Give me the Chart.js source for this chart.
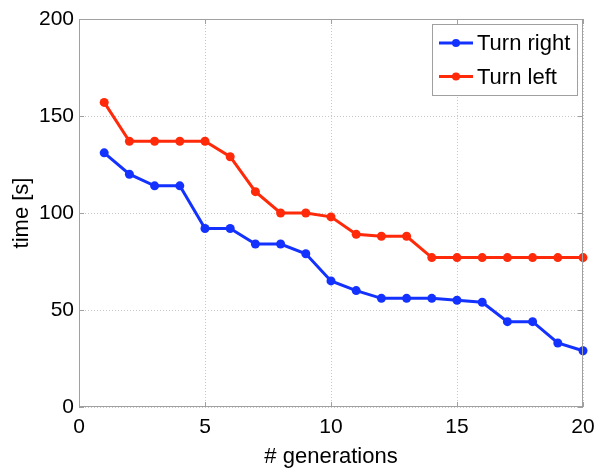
<!DOCTYPE html>
<html>
<head>
<meta charset="utf-8">
<script src="https://cdn.jsdelivr.net/npm/chart.js@4"></script>
<style>
  html, body { margin: 0; padding: 0; background: #fff; }
  #wrap { width: 594px; height: 468px; }
</style>
</head>
<body>
<div id="wrap"><canvas id="timeChart" width="594" height="468"></canvas></div>
<script>
const generations = [1, 2, 3, 4, 5, 6, 7, 8, 9, 10, 11, 12, 13, 14, 15, 16, 17, 18, 19, 20];
const turnRight = [131, 120, 114, 114, 92, 92, 84, 84, 79, 65, 60, 56, 56, 56, 55, 54, 44, 44, 33, 29];
const turnLeft = [157, 137, 137, 137, 137, 129, 111, 100, 100, 98, 89, 88, 88, 77, 77, 77, 77, 77, 77, 77];
const xTicks = [0, 5, 10, 15, 20];
const yTicks = [0, 50, 100, 150, 200];

const FONT = 'Liberation Sans, Arial, Helvetica, sans-serif';
const BLUE = '#1432ff';
const RED = '#ff2a0a';

const toPoints = (values) => generations.map((g, i) => ({ x: g, y: values[i] }));

// box around the plot + small inward ticks, like matlab
const boxPlugin = {
  id: 'box',
  afterDraw(chart) {
    const { ctx, chartArea: a, scales } = chart;
    ctx.save();
    ctx.strokeStyle = '#a0a0a0';
    ctx.lineWidth = 1;
    ctx.strokeRect(a.left + 0.5, a.top + 0.5, a.right - a.left - 1, a.bottom - a.top - 1);
    ctx.beginPath();
    xTicks.forEach(t => {
      const x = Math.round(scales.x.getPixelForValue(t)) + 0.5;
      ctx.moveTo(x, a.bottom); ctx.lineTo(x, a.bottom - 5);
      ctx.moveTo(x, a.top); ctx.lineTo(x, a.top + 5);
    });
    yTicks.forEach(t => {
      const y = Math.round(scales.y.getPixelForValue(t)) + 0.5;
      ctx.moveTo(a.left, y); ctx.lineTo(a.left + 5, y);
      ctx.moveTo(a.right, y); ctx.lineTo(a.right - 5, y);
    });
    ctx.stroke();
    ctx.restore();
  }
};

// legend drawn inside the plot, top right
const insideLegend = {
  id: 'insideLegend',
  afterDraw(chart) {
    const { ctx, chartArea: a } = chart;
    const sets = chart.data.datasets;
    const w = 145, rowH = 33.5, h = 71;
    const x0 = Math.round(a.right - w - 6), y0 = Math.round(a.top + 5);
    ctx.save();
    ctx.fillStyle = '#fff';
    ctx.fillRect(x0, y0, w, h);
    ctx.strokeStyle = '#a0a0a0';
    ctx.lineWidth = 1;
    ctx.strokeRect(x0 + 0.5, y0 + 0.5, w, h);
    ctx.font = '22px ' + FONT;
    ctx.textBaseline = 'middle';
    sets.forEach((ds, i) => {
      const cy = y0 + 19 + i * rowH;
      ctx.strokeStyle = ds.borderColor;
      ctx.lineWidth = 3;
      ctx.beginPath();
      ctx.moveTo(x0 + 7, cy); ctx.lineTo(x0 + 41, cy);
      ctx.stroke();
      ctx.fillStyle = ds.borderColor;
      ctx.beginPath();
      ctx.arc(x0 + 24, cy, 4, 0, Math.PI * 2);
      ctx.fill();
      ctx.fillStyle = '#000';
      ctx.fillText(ds.label, x0 + 45, cy + 1);
    });
    ctx.restore();
  }
};

new Chart(document.getElementById('timeChart'), {
  type: 'line',
  data: {
    datasets: [
      {
        label: 'Turn right',
        data: toPoints(turnRight),
        borderColor: BLUE,
        backgroundColor: BLUE,
        borderWidth: 3,
        pointRadius: 4.5,
        pointBorderWidth: 0,
        tension: 0
      },
      {
        label: 'Turn left',
        data: toPoints(turnLeft),
        borderColor: RED,
        backgroundColor: RED,
        borderWidth: 3,
        pointRadius: 4.5,
        pointBorderWidth: 0,
        tension: 0
      }
    ]
  },
  options: {
    responsive: false,
    animation: false,
    clip: false,
    layout: { padding: { top: 19, right: 11, left: 0, bottom: 0 } },
    plugins: {
      legend: { display: false },
      tooltip: { enabled: false }
    },
    scales: {
      x: {
        type: 'linear',
        min: 0,
        max: 20,
        afterBuildTicks: s => { s.ticks = xTicks.map(v => ({ value: v })); },
        afterFit: s => { s.height = 61; s.paddingLeft = 0; s.paddingRight = 0; },
        grid: { color: '#c8c8c8', drawTicks: false },
        border: { display: false, dash: [1, 2] },
        ticks: { color: '#000', padding: 8, font: { family: FONT, size: 21 }, maxRotation: 0 },
        title: { display: true, text: '# generations', color: '#000', padding: { top: 0, bottom: -2 }, font: { family: FONT, size: 22 } }
      },
      y: {
        min: 0,
        max: 200,
        afterBuildTicks: s => { s.ticks = yTicks.map(v => ({ value: v })); },
        afterFit: s => { s.width = 79; s.paddingTop = 0; s.paddingBottom = 0; },
        grid: { color: '#c8c8c8', drawTicks: false },
        border: { display: false, dash: [1, 2] },
        ticks: { color: '#000', padding: 5, font: { family: FONT, size: 21 } },
        title: { display: true, text: 'time [s]', color: '#000', padding: { top: 9, bottom: 0 }, font: { family: FONT, size: 22 } }
      }
    }
  },
  plugins: [boxPlugin, insideLegend]
});
</script>
</body>
</html>
